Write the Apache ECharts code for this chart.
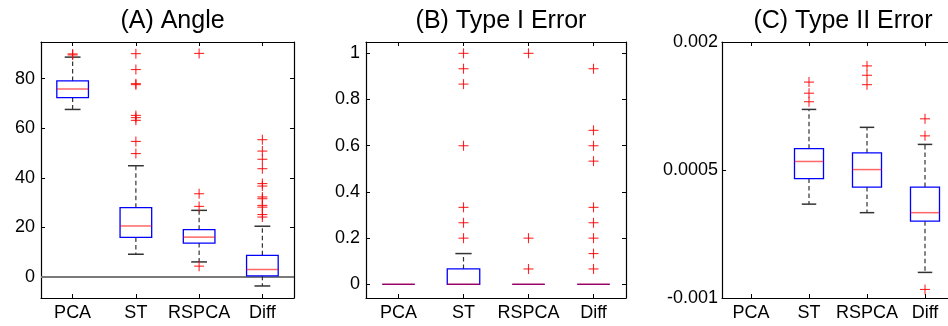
<!DOCTYPE html>
<html>
<head>
<meta charset="utf-8">
<script src="https://cdn.jsdelivr.net/npm/echarts@6/dist/echarts.min.js"></script>
<style>
html,body{margin:0;padding:0;background:#fff;}
#chart{width:948px;height:326px;}
</style>
</head>
<body>
<div id="chart"></div>
<script>
// ---------------- data ----------------
const categories = ['PCA', 'ST', 'RSPCA', 'Diff'];
const panelTitles = ['(A) Angle', '(B) Type I Error', '(C) Type II Error'];

// box rows: [lowerWhisker, Q1, median, Q3, upperWhisker]
const angleBoxes = [
  [67.6, 72.4, 75.8, 79.1, 88.7],
  [9.2, 16.0, 20.6, 28.0, 44.9],
  [6.1, 13.7, 16.1, 19.1, 26.9],
  [-3.6, 0.5, 3.0, 8.75, 20.5]
];
const angleOutliers = [
  [89.6, 90.0],
  [90.1, 83.7, 78.0, 77.6, 65.2, 64.3, 63.2, 54.7, 49.8],
  [90.2, 33.6, 28.5, 4.4],
  [55.4, 50.8, 47.5, 43.7, 37.7, 36.7, 32.3, 31.6, 28.9, 28.2, 25.2, 24.2]
];
const angleTicks = [0, 20, 40, 60, 80];

const type1Boxes = [
  [0, 0, 0, 0, 0],
  [0, 0, 0, 0.0667, 0.1333],
  [0, 0, 0, 0, 0],
  [0, 0, 0, 0, 0]
];
const type1Outliers = [
  [],
  [0.2, 0.2667, 0.3333, 0.6, 0.8667, 0.9333, 1.0],
  [0.0667, 0.2, 1.0],
  [0.0667, 0.1333, 0.2, 0.2667, 0.3333, 0.5333, 0.6, 0.6667, 0.9333]
];
const type1Ticks = [0, 0.2, 0.4, 0.6, 0.8, 1];

const type2Boxes = [
  null,
  [0.0001, 0.0004, 0.0006, 0.00075, 0.00121],
  [0.0000, 0.0003, 0.000505, 0.0007, 0.0010],
  [-0.0007, -0.0001, 0.0000, 0.0003, 0.0008]
];
const type2Outliers = [
  [],
  [0.00153, 0.0014, 0.0013],
  [0.00172, 0.00161, 0.0015],
  [0.0011, 0.0009, -0.0009]
];
const type2Ticks = [-0.001, 0.0005, 0.002];

const yRanges = [[-8.45, 94.8], [-0.059, 1.049], [-0.001, 0.002]];

// ---------------- layout ----------------
const grids = [
  { left: 41, top: 42, width: 253, height: 256 },
  { left: 366, top: 42, width: 260, height: 256 },
  { left: 722, top: 42, width: 232, height: 256 }
];
const labelMargins = [6, 6, 4];
const FONT = '"Liberation Sans", Arial, Helvetica, sans-serif';

const boxesAll = [angleBoxes, type1Boxes, type2Boxes];
const outAll = [angleOutliers, type1Outliers, type2Outliers];
const ticksAll = [angleTicks, type1Ticks, type2Ticks];

function renderBox(params, api) {
  const i = api.value(0);
  const lw = api.value(1), q1 = api.value(2), med = api.value(3), q3 = api.value(4), uw = api.value(5);
  const band = api.size([1, 0])[0];
  const bw = band * 0.5, cw = band * 0.25;
  const pLw = api.coord([i, lw]), pQ1 = api.coord([i, q1]), pMed = api.coord([i, med]);
  const pQ3 = api.coord([i, q3]), pUw = api.coord([i, uw]);
  const cx = pMed[0];
  const children = [];
  const dash = { stroke: '#333', lineWidth: 1.2, lineDash: [4.5, 3] };
  const cap = { stroke: '#333', lineWidth: 1.5 };
  if (uw > q3) {
    children.push({ type: 'line', shape: { x1: cx, y1: pQ3[1], x2: cx, y2: pUw[1] }, style: dash });
    children.push({ type: 'line', shape: { x1: cx - cw / 2, y1: pUw[1], x2: cx + cw / 2, y2: pUw[1] }, style: cap });
  }
  if (lw < q1) {
    children.push({ type: 'line', shape: { x1: cx, y1: pQ1[1], x2: cx, y2: pLw[1] }, style: dash });
    children.push({ type: 'line', shape: { x1: cx - cw / 2, y1: pLw[1], x2: cx + cw / 2, y2: pLw[1] }, style: cap });
  }
  children.push({ type: 'rect', shape: { x: cx - bw / 2, y: pQ3[1], width: bw, height: pQ1[1] - pQ3[1] },
    style: { fill: 'none', stroke: '#0000ff', lineWidth: 1.3 } });
  children.push({ type: 'line', shape: { x1: cx - bw / 2, y1: pMed[1], x2: cx + bw / 2, y2: pMed[1] },
    style: { stroke: 'rgba(255,0,0,0.6)', lineWidth: 1.5 } });
  return { type: 'group', children: children };
}

function renderPlus(params, api) {
  const p = api.coord([api.value(0), api.value(1)]);
  const h = 5;
  const st = { stroke: 'rgba(255,0,0,0.85)', lineWidth: 1.1 };
  return { type: 'group', children: [
    { type: 'line', shape: { x1: p[0] - h, y1: p[1], x2: p[0] + h, y2: p[1] }, style: st },
    { type: 'line', shape: { x1: p[0], y1: p[1] - h, x2: p[0], y2: p[1] + h }, style: st }
  ] };
}

const option = {
  animation: false,
  backgroundColor: '#fff',
  title: panelTitles.map((t, k) => ({
    text: t,
    left: grids[k].left + grids[k].width / 2,
    textAlign: 'center',
    top: 4,
    textStyle: { fontFamily: FONT, fontSize: 25, fontWeight: 'normal', color: '#000' }
  })),
  grid: grids.map(g => Object.assign({ show: false, containLabel: false, outerBoundsMode: 'none' }, g)),
  xAxis: [],
  yAxis: [],
  series: []
};

for (let k = 0; k < 3; k++) {
  // bottom category axis
  option.xAxis.push({
    type: 'category', gridIndex: k, data: categories, position: 'bottom',
    axisLine: { show: true, onZero: false, lineStyle: { color: '#000', width: 1.2 } },
    axisTick: { show: true, inside: true, alignWithLabel: true, length: 4, lineStyle: { color: '#000' } },
    axisLabel: { show: true, margin: 6, fontFamily: FONT, fontSize: 18, color: '#000', interval: 0 },
    splitLine: { show: false }
  });
  option.yAxis.push({
    type: 'value', gridIndex: k, min: yRanges[k][0], max: yRanges[k][1], position: 'left',
    axisLine: { show: true, onZero: false, lineStyle: { color: '#000', width: 1.2 } },
    axisTick: { show: true, inside: true, length: 4, customValues: ticksAll[k], lineStyle: { color: '#000' } },
    axisLabel: { show: true, margin: labelMargins[k], fontFamily: FONT, fontSize: 18, color: '#000',
      customValues: ticksAll[k], showMinLabel: true, showMaxLabel: true },
    splitLine: { show: false }
  });
}
for (let k = 0; k < 3; k++) {
  // top mirror axis (ticks only)
  option.xAxis.push({
    type: 'category', gridIndex: k, data: categories, position: 'top',
    axisLine: { show: true, onZero: false, lineStyle: { color: '#000', width: 1.2 } },
    axisTick: { show: true, inside: true, alignWithLabel: true, length: 4, lineStyle: { color: '#000' } },
    axisLabel: { show: false }, splitLine: { show: false }
  });
  option.yAxis.push({
    type: 'value', gridIndex: k, min: yRanges[k][0], max: yRanges[k][1], position: 'right',
    axisLine: { show: true, onZero: false, lineStyle: { color: '#000', width: 1.2 } },
    axisTick: { show: true, inside: true, length: 4, customValues: ticksAll[k], lineStyle: { color: '#000' } },
    axisLabel: { show: false }, splitLine: { show: false }
  });
}

for (let k = 0; k < 3; k++) {
  const boxData = [];
  boxesAll[k].forEach((b, i) => { if (b) boxData.push([i].concat(b)); });
  const outData = [];
  outAll[k].forEach((arr, i) => arr.forEach(v => outData.push([i, v])));
  const boxSeries = {
    type: 'custom', xAxisIndex: k, yAxisIndex: k, renderItem: renderBox,
    encode: { x: 0, y: [1, 2, 3, 4, 5] }, data: boxData, z: 3, silent: true
  };
  if (k === 0) {
    boxSeries.markLine = {
      silent: true, symbol: 'none', label: { show: false },
      lineStyle: { color: '#7a7a7a', width: 2, type: 'solid' },
      data: [{ yAxis: 0 }], z: 2
    };
  }
  option.series.push(boxSeries);
  option.series.push({
    type: 'custom', xAxisIndex: k, yAxisIndex: k, renderItem: renderPlus,
    encode: { x: 0, y: 1 }, data: outData, z: 4, silent: true
  });
}

const chart = echarts.init(document.getElementById('chart'), null, { renderer: 'canvas' });
chart.setOption(option);
</script>
</body>
</html>
